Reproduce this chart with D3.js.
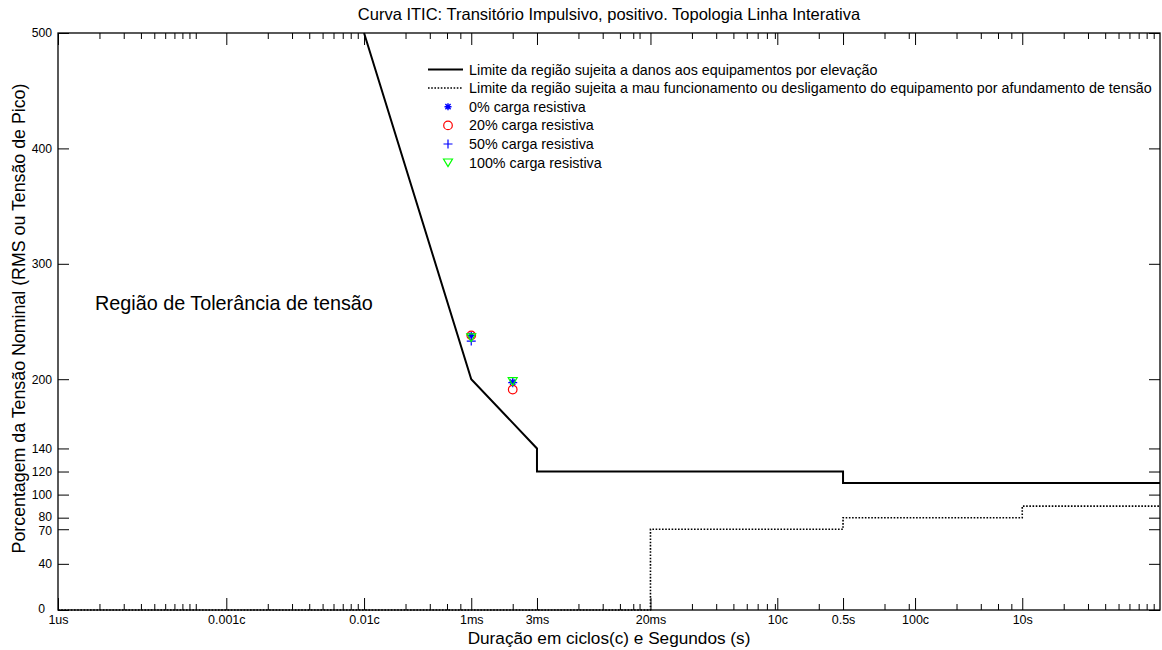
<!DOCTYPE html>
<html><head><meta charset="utf-8">
<script src="https://cdn.jsdelivr.net/npm/d3@7"></script>
<style>
body{margin:0;background:#fff;}
svg text{font-family:"Liberation Sans",Arial,Helvetica,sans-serif;fill:#000;}
</style>
</head><body>
<svg id="chart" width="1162" height="650"></svg>
<script>
const CYCLE = 1 / 60; // one cycle at 60 Hz, in seconds

// x axis (seconds, log)
const xTickValues = [1e-6, 0.001 * CYCLE, 0.01 * CYCLE, 1e-3, 3e-3, 0.02, 10 * CYCLE, 0.5, 100 * CYCLE, 10];
const xTickLabels = ["1us", "0.001c", "0.01c", "1ms", "3ms", "20ms", "10c", "0.5s", "100c", "10s"];
const xMinorTicks = [
  2e-6, 3e-6, 4e-6, 5e-6, 6e-6, 7e-6, 8e-6, 9e-6, 1e-5,
  0.002 * CYCLE, 0.003 * CYCLE, 0.004 * CYCLE, 0.005 * CYCLE, 0.006 * CYCLE, 0.007 * CYCLE, 0.008 * CYCLE, 0.009 * CYCLE,
  0.02 * CYCLE, 0.03 * CYCLE, 0.04 * CYCLE, 0.05 * CYCLE,
  2e-3, 6e-3, 9e-3, 12e-3, 15e-3, 1 * CYCLE,
  0.04, 0.06, 0.08, 0.1, 0.12, 0.14, 0.16,
  20 * CYCLE, 1, 1.5,
  200 * CYCLE, 300 * CYCLE, 400 * CYCLE, 500 * CYCLE,
  20, 30, 40, 50, 60, 70, 80, 90
];
const xDomain = [1e-6, 100];

// y axis (percent)
const yTickValues = [0, 40, 70, 80, 100, 120, 140, 200, 300, 400, 500];
const yDomain = [0, 500];

// limit curves
const damageX = [0.01 * CYCLE, 1e-3, 3e-3, 3e-3, 0.5, 0.5, 100];
const damageY = [500, 200, 140, 120, 120, 110, 110];
const malfX = [1e-6, 0.02, 0.02, 0.5, 0.5, 10, 10, 100];
const malfY = [0, 0, 70, 70, 80, 80, 90, 90];

// measured points
const pointX = [1e-3, 2e-3];
const load0 = [238, 197.5];
const load20 = [238, 191];
const load50 = [233, 197];
const load100 = [236, 198];

const seriesNames = ["0% carga resistiva", "20% carga resistiva", "50% carga resistiva", "100% carga resistiva"];
const lineNames = [
  "Limite da região sujeita a danos aos equipamentos por elevação",
  "Limite da região sujeita a mau funcionamento ou desligamento do equipamento por afundamento de tensão"
];
const titleText = "Curva ITIC: Transitório Impulsivo, positivo. Topologia Linha Interativa";
const xLabel = "Duração em ciclos(c) e Segundos (s)";
const yLabel = "Porcentagem da Tensão Nominal (RMS ou Tensão de Pico)";
const annotation = "Região de Tolerância de tensão";

// ---- drawing ----
const svg = d3.select("#chart");
const L = 58, R = 1160, T = 33, B = 610;
const x = d3.scaleLog().domain(xDomain).range([L, R]);
const y = d3.scaleLinear().domain(yDomain).range([B, T]);

function styleAxis(g, fs) {
  g.select(".domain").remove();
  g.selectAll(".tick line").attr("stroke", "#000").attr("stroke-width", 1);
  g.selectAll(".tick text").attr("font-size", fs).attr("font-family", "Liberation Sans, Arial, sans-serif").attr("fill", "#000");
}

// bottom major
svg.append("g").attr("transform", `translate(0,${B})`)
  .call(d3.axisBottom(x).tickValues(xTickValues).tickFormat((d, i) => xTickLabels[i]).tickSize(-12).tickPadding(5))
  .call(g => styleAxis(g, 12.5));
// bottom minor
svg.append("g").attr("transform", `translate(0,${B})`)
  .call(d3.axisBottom(x).tickValues(xMinorTicks).tickFormat("").tickSize(-6))
  .call(g => styleAxis(g, 12));
// top major/minor
svg.append("g").attr("transform", `translate(0,${T})`)
  .call(d3.axisTop(x).tickValues(xTickValues).tickFormat("").tickSize(-12))
  .call(g => styleAxis(g, 12));
svg.append("g").attr("transform", `translate(0,${T})`)
  .call(d3.axisTop(x).tickValues(xMinorTicks).tickFormat("").tickSize(-6))
  .call(g => styleAxis(g, 12));
// left
svg.append("g").attr("transform", `translate(${L},0)`)
  .call(d3.axisLeft(y).tickValues(yTickValues).tickFormat(d3.format("d")).tickSize(-11).tickPadding(6))
  .call(g => styleAxis(g, 12.2))
  .call(g => g.selectAll(".tick text").filter(d => d === 0).attr("dx", -7).attr("dy", "0.2em"))
  .call(g => g.selectAll(".tick text").filter(d => d === 80).attr("dy", "0.22em"))
  .call(g => g.selectAll(".tick text").filter(d => d === 70).attr("dy", "0.42em"));
// right
svg.append("g").attr("transform", `translate(${R},0)`)
  .call(d3.axisRight(y).tickValues(yTickValues).tickFormat("").tickSize(-11))
  .call(g => styleAxis(g, 12));

// box
svg.append("rect").attr("x", L).attr("y", T).attr("width", R - L).attr("height", B - T)
  .attr("fill", "none").attr("stroke", "#000").attr("stroke-width", 1.3);

// curves
const line = d3.line().x(d => x(d[0])).y(d => y(d[1]));
svg.append("path").datum(damageX.map((v, i) => [v, damageY[i]]))
  .attr("d", line).attr("fill", "none").attr("stroke", "#000").attr("stroke-width", 2);
svg.append("path").datum(malfX.map((v, i) => [v, malfY[i]]))
  .attr("d", line).attr("fill", "none").attr("stroke", "#000").attr("stroke-width", 1.6)
  .attr("stroke-dasharray", "1.6,1.6");

// markers
function asterisk(s) { const h = s / 2, d = h * 0.75; return `M${-h},0H${h}M0,${-h}V${h}M${-d},${-d}L${d},${d}M${-d},${d}L${d},${-d}`; }
function plus(s) { const h = s / 2; return `M${-h},0H${h}M0,${-h}V${h}`; }
function triDown(s) { const h = s / 2; return `M${-h},${-h * 0.85}L${h},${-h * 0.85}L0,${h * 0.85}Z`; }
const markerDefs = [
  { data: load0, draw: g => g.append("path").attr("d", asterisk(7)).attr("stroke", "#0000ff").attr("stroke-width", 1.4).attr("fill", "none") },
  { data: load20, draw: g => g.append("circle").attr("r", 4.3).attr("stroke", "#ff0000").attr("stroke-width", 1.2).attr("fill", "none") },
  { data: load50, draw: g => g.append("path").attr("d", plus(9)).attr("stroke", "#0000ff").attr("stroke-width", 1.2).attr("fill", "none") },
  { data: load100, draw: g => g.append("path").attr("d", triDown(9)).attr("stroke", "#00ff00").attr("stroke-width", 1.2).attr("fill", "none") }
];
markerDefs.forEach(m => {
  m.data.forEach((v, i) => {
    const g = svg.append("g").attr("transform", `translate(${x(pointX[i])},${y(v)})`);
    m.draw(g);
  });
});

// legend
const legX = 428, legTextX = 469, legBase = [74.5, 93, 111.7, 130.4, 149, 167.8];
const legFont = 14.3;
const leg = svg.append("g");
lineNames.forEach((n, i) => {
  const ly = legBase[i] - 5;
  leg.append("line").attr("x1", legX).attr("x2", 463).attr("y1", ly).attr("y2", ly)
    .attr("stroke", "#000").attr("stroke-width", i === 0 ? 2 : 1.6)
    .attr("stroke-dasharray", i === 0 ? null : "1.6,1.6");
  leg.append("text").attr("x", legTextX).attr("y", legBase[i]).attr("font-size", legFont).text(n);
});
seriesNames.forEach((n, i) => {
  const ly = legBase[i + 2] - 5;
  const g = leg.append("g").attr("transform", `translate(448,${ly})`);
  markerDefs[i].draw(g);
  leg.append("text").attr("x", legTextX).attr("y", legBase[i + 2]).attr("font-size", legFont).text(n);
});

// texts
svg.append("text").attr("x", (L + R) / 2).attr("y", 20).attr("text-anchor", "middle").attr("font-size", 16.5).text(titleText);
svg.append("text").attr("x", (L + R) / 2).attr("y", 644).attr("text-anchor", "middle").attr("font-size", 17.2).text(xLabel);
svg.append("text").attr("transform", `translate(25,${(T + B) / 2 - 3}) rotate(-90)`).attr("text-anchor", "middle").attr("font-size", 17.8).text(yLabel);
svg.append("text").attr("x", 95).attr("y", 310).attr("font-size", 19.8).text(annotation);
</script>
</body></html>
